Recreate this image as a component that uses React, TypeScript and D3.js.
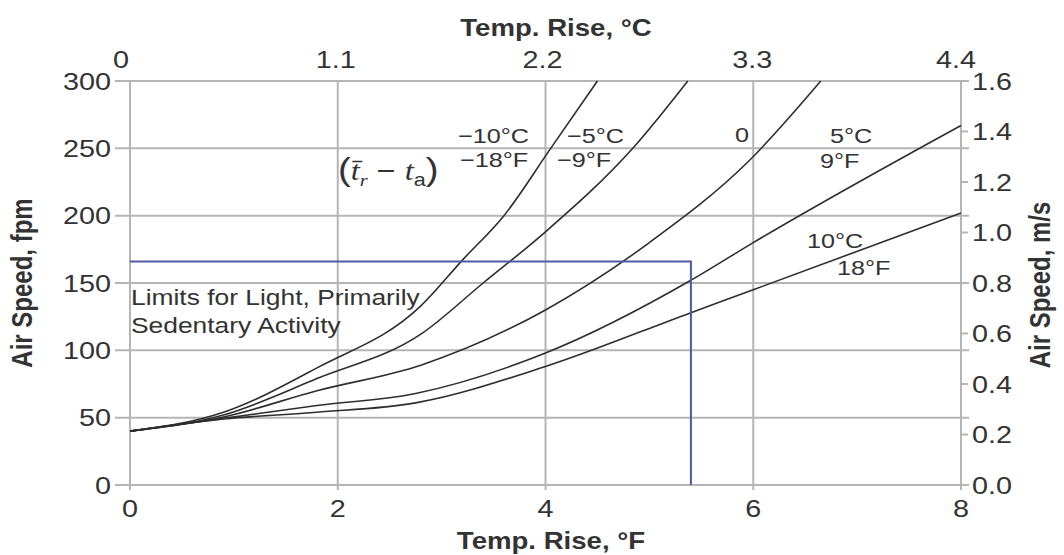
import React from "react";
import * as d3 from "d3";

// ---------- data ----------
const fTicks = [0, 2, 4, 6, 8];
const cTickLabels = ["0", "1.1", "2.2", "3.3", "4.4"];
const fpmTicks = [0, 50, 100, 150, 200, 250, 300];
const msTicks = [0, 0.2, 0.4, 0.6, 0.8, 1.0, 1.2, 1.4, 1.6];

const m10F = [0, 0.9, 1.8, 2.8, 3.2, 3.6, 4.05, 4.5];
const m10V = [40, 54, 87, 133, 167, 200, 250, 300];
const m5F = [0, 0.9, 1.8, 2.8, 3.4, 4.0, 4.84, 5.37];
const m5V = [40, 52, 79, 112, 150, 188, 250, 300];
const z0F = [0, 0.9, 1.8, 2.8, 4.0, 5.0, 5.95, 6.65];
const z0V = [40, 50.5, 70, 89, 130, 180, 240, 300];
const p5F = [0, 0.9, 1.8, 2.75, 4.0, 5.4, 6.0, 8.0];
const p5V = [40, 49.5, 59, 68, 98, 152, 180, 267];
const p10F = [0, 0.9, 1.8, 2.75, 4.0, 5.4, 6.0, 8.0];
const p10V = [40, 49, 54, 61, 88, 128, 145, 202];

const seriesF = [m10F, m5F, z0F, p5F, p10F];
const seriesV = [m10V, m5V, z0V, p5V, p10V];

const limitF = 5.4;
const limitFpm = 166;

const labelsC = ["−10°C", "−5°C", "0", "5°C", "10°C"];
const labelsF = ["−18°F", "−9°F", "", "9°F", "18°F"];

// ---------- layout ----------
const W = 1064;
const H = 555;
const L = 130, R = 961, T = 81, B = 485;
const SX = 1.2;
const FONT = "'Liberation Sans', Arial, Helvetica, sans-serif";
const GRID = "#b5b5b5";
const INK = "#333";

const x = d3.scaleLinear().domain([0, 8]).range([L, R]);
const xTop = d3.scaleLinear().domain([0, 4.4]).range([L, R]);
const y = d3.scaleLinear().domain([0, 300]).range([B, T]);
const yR = d3.scaleLinear().domain([0, 1.6]).range([B, T]);

function Txt(props: any) {
  const { x: tx, y: ty, anchor = "start", size = 24, weight = "normal", rot = false, dy, children, fill = INK, family = FONT } = props;
  const tr = `translate(${tx},${ty}) scale(${SX},1)` + (rot ? " rotate(-90)" : "");
  return (
    <text transform={tr} textAnchor={anchor} fontSize={size} fontWeight={weight} fontFamily={family} fill={fill} dy={dy}>
      {children}
    </text>
  );
}

export default function App() {
  const line = d3
    .line<[number, number]>()
    .x((d) => x(d[0]))
    .y((d) => y(d[1]))
    .curve(d3.curveMonotoneX);

  const topOffsets = [-9, -2, -3, -1, -5];

  const cPos = [
    [458, 143], [567, 143], [735, 142], [830, 143], [807, 248],
  ];
  const fPos = [
    [460, 167], [557, 167], [0, 0], [820, 168], [837, 275],
  ];

  return (
    <svg width={W} height={H} style={{ position: "absolute", left: 0, top: 0, background: "#fff" }}>
      <rect x={0} y={0} width={W} height={H} fill="#fff" />
      {fpmTicks.map((v) => (
        <line key={"h" + v} x1={115} x2={R + 8} y1={y(v)} y2={y(v)} stroke={GRID} strokeWidth={2} />
      ))}
      {fTicks.map((v) => (
        <line key={"v" + v} x1={x(v)} x2={x(v)} y1={T} y2={B + 5} stroke={GRID} strokeWidth={2} />
      ))}
      {msTicks.map((v) => (
        <line key={"r" + v} x1={R} x2={R + 7} y1={yR(v)} y2={yR(v)} stroke={GRID} strokeWidth={2} />
      ))}

      {seriesF.map((fs, i) => (
        <path
          key={"c" + i}
          d={line(fs.map((f, j) => [f, seriesV[i][j]]) as [number, number][]) || ""}
          fill="none"
          stroke="#2e2e2e"
          strokeWidth={1.6}
        />
      ))}

      <path
        d={`M${x(0)},${y(limitFpm)}H${x(limitF)}V${y(0)}`}
        fill="none"
        stroke="#4f5aa6"
        strokeWidth={2}
      />

      {fpmTicks.map((v) => (
        <Txt key={"lt" + v} x={111} y={y(v)} dy="0.36em" anchor="end">
          {String(v)}
        </Txt>
      ))}
      {fTicks.map((v) => (
        <Txt key={"bt" + v} x={x(v)} y={517} anchor="middle">
          {String(v)}
        </Txt>
      ))}
      {cTickLabels.map((s, i) => (
        <Txt key={"tt" + s} x={xTop(i * 1.1) + topOffsets[i]} y={68} anchor="middle">
          {s}
        </Txt>
      ))}
      {msTicks.map((v) => (
        <Txt key={"rt" + v} x={972} y={yR(v)} dy="0.36em">
          {v.toFixed(1)}
        </Txt>
      ))}

      <Txt x={556} y={36} anchor="middle" size={23} weight="bold">Temp. Rise, °C</Txt>
      <Txt x={551} y={549} anchor="middle" size={23} weight="bold">Temp. Rise, °F</Txt>
      <Txt x={32} y={283} anchor="middle" size={24} weight="bold" rot>Air Speed, fpm</Txt>
      <Txt x={1050} y={285} anchor="middle" size={24} weight="bold" rot>Air Speed, m/s</Txt>

      {labelsC.map((s, i) => (
        <Txt key={"lc" + i} x={cPos[i][0]} y={cPos[i][1]} size={21}>{s}</Txt>
      ))}
      {labelsF.map((s, i) =>
        s ? (
          <Txt key={"lf" + i} x={fPos[i][0]} y={fPos[i][1]} size={21}>{s}</Txt>
        ) : null
      )}

      <text transform={`translate(338,180) scale(${SX},1)`} fontSize={27} fontFamily="'Liberation Serif', 'DejaVu Serif', serif" fill={INK}>
        <tspan fontSize={32} fontFamily={FONT} fontWeight="300">(</tspan>
        <tspan fontStyle="italic">{"t\u0304"}</tspan>
        <tspan fontStyle="italic" fontSize={17} dy={6}>r</tspan>
        <tspan dy={-6} fontFamily={FONT}> − </tspan>
        <tspan fontStyle="italic">t</tspan>
        <tspan fontSize={18} dy={6} fontFamily={FONT}>a</tspan>
        <tspan dy={-6} fontSize={32} fontFamily={FONT}>)</tspan>
      </text>

      <Txt x={131} y={305} size={22}>Limits for Light, Primarily</Txt>
      <Txt x={131} y={333} size={22}>Sedentary Activity</Txt>
    </svg>
  );
}
